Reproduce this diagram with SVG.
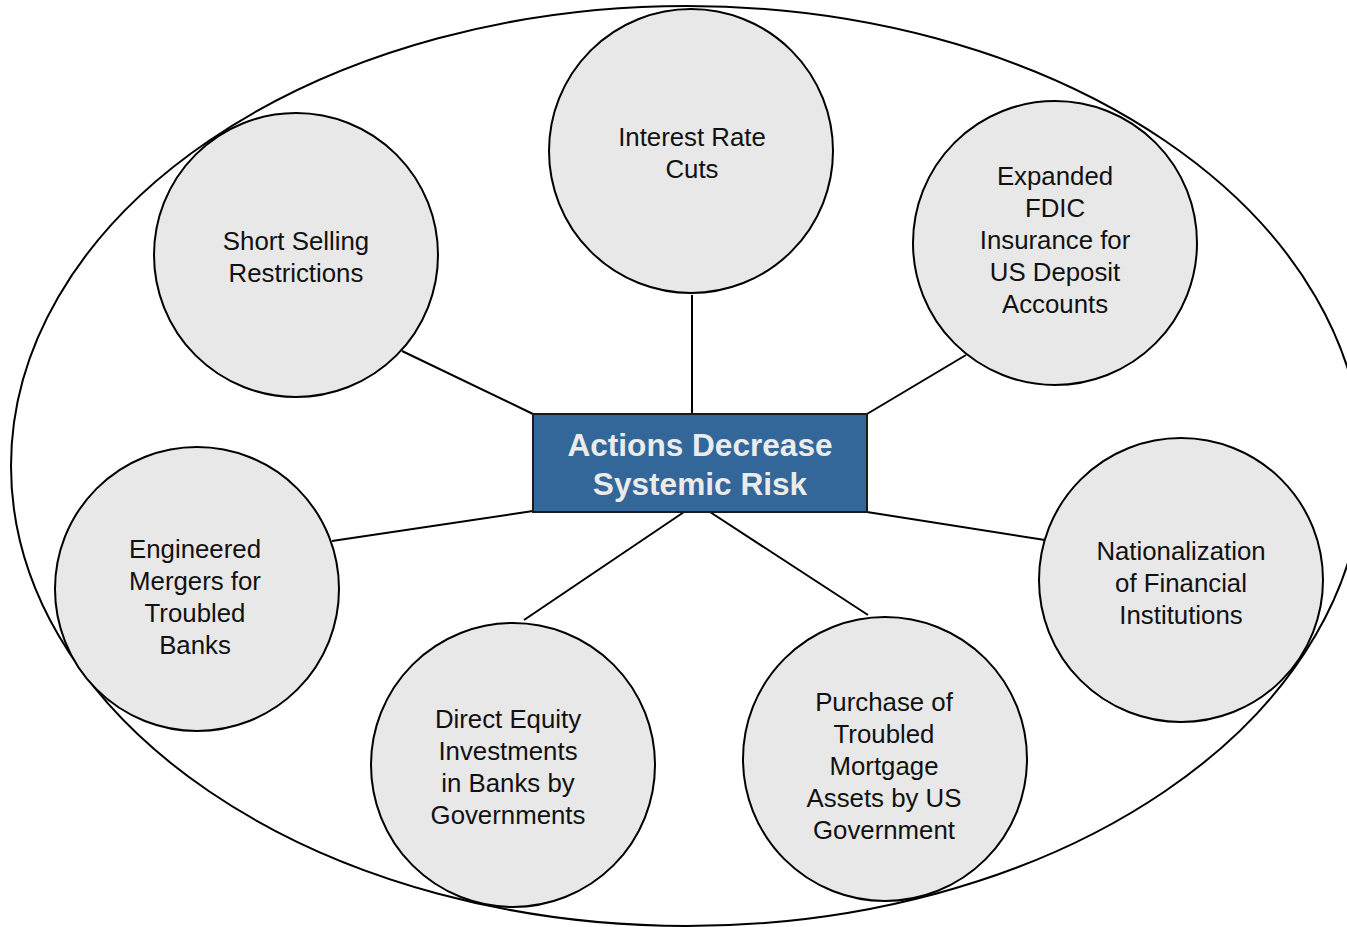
<svg xmlns="http://www.w3.org/2000/svg" width="1347" height="927" viewBox="0 0 1347 927">
<style>
.c{fill:#e8e8e8;stroke:#000;stroke-width:2}
.t{font-family:"Liberation Sans",Arial,sans-serif;font-size:25.8px;fill:#111;text-anchor:middle}
.h{font-family:"Liberation Sans",Arial,sans-serif;font-size:31.6px;font-weight:bold;fill:#ebebeb;text-anchor:middle}
.l{stroke:#000;stroke-width:2;fill:none}
</style>
<rect width="1347" height="927" fill="#fff"/>
<ellipse cx="687" cy="466" rx="676" ry="460" fill="none" stroke="#000" stroke-width="2"/>
<g id="connectors">
<line class="l" x1="402" y1="351" x2="533" y2="414"/>
<line class="l" x1="692" y1="295" x2="692" y2="414"/>
<line class="l" x1="966" y1="355" x2="867" y2="414"/>
<line class="l" x1="332" y1="541" x2="533" y2="511"/>
<line class="l" x1="524" y1="620" x2="684" y2="512"/>
<line class="l" x1="868" y1="615" x2="710" y2="512"/>
<line class="l" x1="1045" y1="540" x2="867" y2="512"/>
</g>
<g id="center">
<rect x="533" y="414" width="334" height="98" fill="#336699" stroke="#1a1a1a" stroke-width="2"/>
<text class="h" x="700" y="456">Actions Decrease</text>
<text class="h" x="700" y="495">Systemic Risk</text>
</g>
<g id="interest">
<circle class="c" cx="691" cy="151" r="142"/>
<text class="t" x="692" y="146">Interest Rate</text>
<text class="t" x="692" y="178">Cuts</text>
</g>
<g id="short">
<circle class="c" cx="296" cy="255" r="142"/>
<text class="t" x="296" y="250">Short Selling</text>
<text class="t" x="296" y="282">Restrictions</text>
</g>
<g id="fdic">
<circle class="c" cx="1055" cy="243" r="142"/>
<text class="t" x="1055" y="185">Expanded</text>
<text class="t" x="1055" y="217">FDIC</text>
<text class="t" x="1055" y="249">Insurance for</text>
<text class="t" x="1055" y="281">US Deposit</text>
<text class="t" x="1055" y="313">Accounts</text>
</g>
<g id="mergers">
<circle class="c" cx="197" cy="589" r="142"/>
<text class="t" x="195" y="558">Engineered</text>
<text class="t" x="195" y="590">Mergers for</text>
<text class="t" x="195" y="622">Troubled</text>
<text class="t" x="195" y="654">Banks</text>
</g>
<g id="equity">
<circle class="c" cx="513" cy="765" r="142"/>
<text class="t" x="508" y="728">Direct Equity</text>
<text class="t" x="508" y="760">Investments</text>
<text class="t" x="508" y="792">in Banks by</text>
<text class="t" x="508" y="824">Governments</text>
</g>
<g id="purchase">
<circle class="c" cx="885" cy="759" r="142"/>
<text class="t" x="884" y="711">Purchase of</text>
<text class="t" x="884" y="743">Troubled</text>
<text class="t" x="884" y="775">Mortgage</text>
<text class="t" x="884" y="807">Assets by US</text>
<text class="t" x="884" y="839">Government</text>
</g>
<g id="nationalization">
<circle class="c" cx="1181" cy="580" r="142"/>
<text class="t" x="1181" y="560">Nationalization</text>
<text class="t" x="1181" y="592">of Financial</text>
<text class="t" x="1181" y="624">Institutions</text>
</g>
</svg>
